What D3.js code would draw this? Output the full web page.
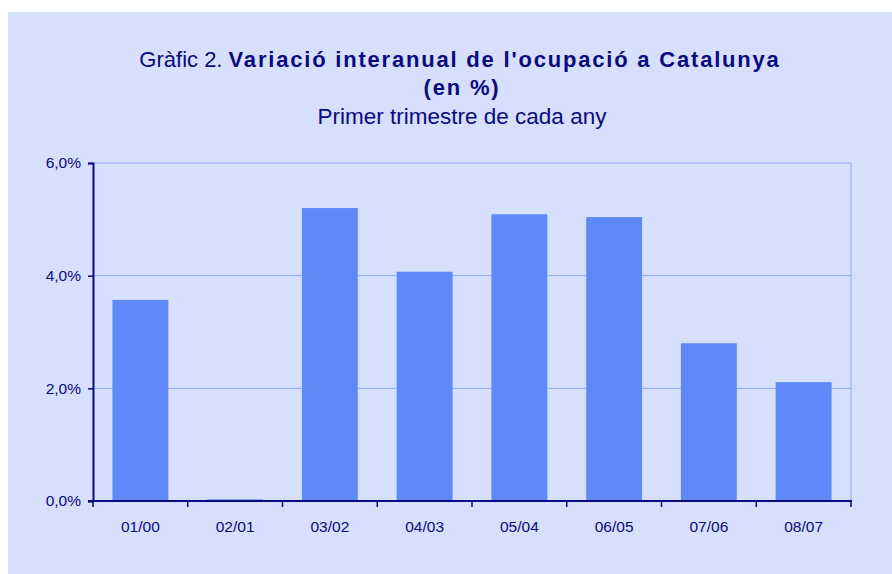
<!DOCTYPE html>
<html>
<head>
<meta charset="utf-8">
<script src="https://cdn.jsdelivr.net/npm/d3@7/dist/d3.min.js"></script>
<style>
  html, body { margin: 0; padding: 0; background: #ffffff; }
  svg { display: block; font-family: "Liberation Sans", Arial, sans-serif; }
</style>
</head>
<body>
<div id="chart"></div>
<script>
// Data
const periods = ["01/00", "02/01", "03/02", "04/03", "05/04", "06/05", "07/06", "08/07"];
const variation = [3.57, 0.03, 5.20, 4.07, 5.09, 5.04, 2.80, 2.11];
const yTicks = [0, 2, 4, 6];

const W = 892, H = 574;
const plot = { left: 93, right: 851, top: 163, bottom: 501 };
const NAVY = "#0a0a80";

const svg = d3.select("#chart").append("svg")
    .attr("width", W).attr("height", H);

// panel background
svg.append("rect")
    .attr("x", 8).attr("y", 12).attr("width", W - 8).attr("height", H - 12)
    .attr("fill", "#d6dffb");

// scales
const x = d3.scaleBand().domain(periods).range([plot.left, plot.right]).paddingInner(0.41).paddingOuter(0.205);
const xTickScale = d3.scaleBand().domain(periods).range([plot.left, plot.right]);
const y = d3.scaleLinear().domain([0, 6]).range([plot.bottom, plot.top]);

// gridlines
svg.append("g").selectAll("line").data(yTicks.filter(d => d > 0)).join("line")
    .attr("x1", plot.left).attr("x2", plot.right)
    .attr("y1", d => y(d)).attr("y2", d => y(d))
    .attr("stroke", "#8eaaf2").attr("stroke-width", 1);
svg.append("line")
    .attr("x1", plot.right).attr("x2", plot.right)
    .attr("y1", plot.top).attr("y2", plot.bottom)
    .attr("stroke", "#8eaaf2").attr("stroke-width", 1);

// bars
svg.append("g").selectAll("rect").data(variation).join("rect")
    .attr("x", (d, i) => x(periods[i]))
    .attr("width", x.bandwidth())
    .attr("y", d => y(d))
    .attr("height", d => y(0) - y(d))
    .attr("fill", "#5e89f6");

// y axis
const yAxis = svg.append("g")
    .attr("transform", `translate(${plot.left},0)`)
    .call(d3.axisLeft(y).tickValues(yTicks).tickSize(5).tickPadding(7)
        .tickFormat(d => d3.format(".1f")(d).replace(".", ",") + "%"));
yAxis.attr("font-size", null).attr("font-family", null);
yAxis.select(".domain").attr("stroke", NAVY).attr("stroke-width", 2);
yAxis.selectAll(".tick line").attr("stroke", NAVY).attr("stroke-width", 1.5);
yAxis.selectAll("text").attr("fill", NAVY).style("font-size", "15.5px");

// x axis: ticks on band boundaries, then the 0% baseline drawn over the bars
const xAxisG = svg.append("g").attr("transform", `translate(0,${plot.bottom})`);
xAxisG.append("line")
    .attr("x1", plot.left - 5).attr("x2", plot.right + 1)
    .attr("stroke", NAVY).attr("stroke-width", 2);
const bounds = periods.map(p => xTickScale(p)).concat([plot.right]);
xAxisG.selectAll("line.tk").data(bounds).join("line").attr("class", "tk")
    .attr("x1", d => d).attr("x2", d => d)
    .attr("y1", 0).attr("y2", 6)
    .attr("stroke", NAVY).attr("stroke-width", 1.5);
xAxisG.selectAll("text").data(periods).join("text")
    .attr("x", d => xTickScale(d) + xTickScale.bandwidth() / 2)
    .attr("y", 31)
    .attr("text-anchor", "middle")
    .attr("fill", NAVY).style("font-size", "15.5px")
    .text(d => d);

// title
const cx = 460;
const t1 = svg.append("text").attr("x", cx).attr("y", 67)
    .attr("text-anchor", "middle").attr("fill", NAVY).style("font-size", "22px");
t1.append("tspan").text("Gràfic 2. ");
t1.append("tspan").attr("font-weight", "bold").attr("letter-spacing", 1.8)
    .text("Variació interanual de l'ocupació a Catalunya");
svg.append("text").attr("x", cx + 2).attr("y", 95)
    .attr("text-anchor", "middle").attr("fill", NAVY).style("font-size", "22px")
    .attr("font-weight", "bold").attr("letter-spacing", 1.8)
    .text("(en %)");
svg.append("text").attr("x", cx + 2).attr("y", 124)
    .attr("text-anchor", "middle").attr("fill", NAVY).style("font-size", "22.5px")
    .text("Primer trimestre de cada any");
</script>
</body>
</html>
